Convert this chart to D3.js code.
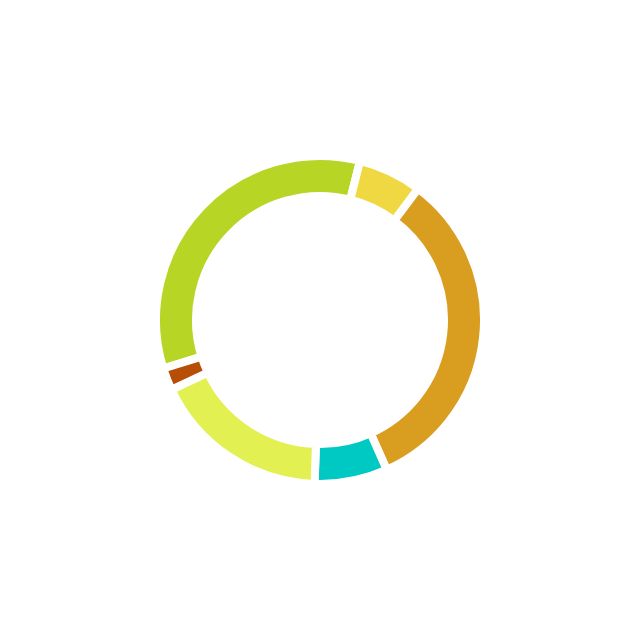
<!DOCTYPE html>
<html>
  <head>
    <meta charset="utf-8" />
    <title>Donut Chart</title>
    <script src="https://d3js.org/d3.v7.min.js"></script>
    <style>
        body {
            margin: 0;
            background: #fff;
        }
    </style>
  </head>
  <body>
    <svg id="donut"></svg>

    <script>
        // slices, clockwise from the big green one
        var categories = ["A", "B", "C", "D", "E", "F"];
        var values = [33.7, 6.3, 33.1, 7.2, 17.5, 2.2];
        var colors = ["#b7d525", "#f0d843", "#d99d20", "#00c9c4", "#e3f052", "#b64e08"];

        var width = 640;
        var height = 640;
        var gap = 8; // white stroke between slices
        var outer = 160 + gap / 2;
        var inner = 128 - gap / 2;

        var svg = d3.select("#donut").attr("width", width).attr("height", height);

        var g = svg.append("g")
          .attr("transform", "translate(" + width / 2 + "," + height / 2 + ")");

        var start = -107.2 * Math.PI / 180;

        var pie = d3.pie()
          .sort(null)
          .startAngle(start)
          .endAngle(start + 2 * Math.PI)
          .value(function(d, i) { return values[i]; });

        var arc = d3.arc()
          .innerRadius(inner)
          .outerRadius(outer);

        g.selectAll("path")
          .data(pie(categories))
          .enter().append("path")
          .attr("d", arc)
          .attr("fill", function(d, i) { return colors[i]; })
          .attr("stroke", "#fff")
          .attr("stroke-width", gap);
    </script>
  </body>
</html>
